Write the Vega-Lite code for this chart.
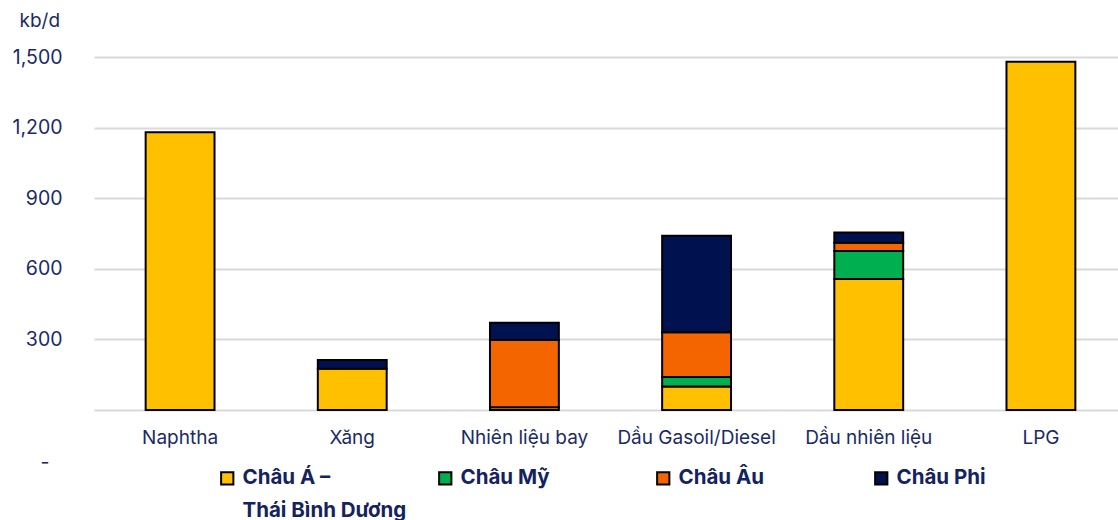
{
  "$schema": "https://vega.github.io/schema/vega-lite/v6.json",
  "autosize": "none",
  "width": 1033,
  "height": 353,
  "padding": {"left": 94, "top": 57, "right": 0, "bottom": 110},
  "background": "white",
  "config": {
    "view": {"stroke": null},
    "font": "Inter"
  },
  "data": {
    "values": [
      {"product": "Naphtha", "region": "Châu Á – Thái Bình Dương", "value": 1180},
      {"product": "Xăng", "region": "Châu Á – Thái Bình Dương", "value": 175},
      {"product": "Xăng", "region": "Châu Phi", "value": 37},
      {"product": "Nhiên liệu bay", "region": "Châu Á – Thái Bình Dương", "value": 12},
      {"product": "Nhiên liệu bay", "region": "Châu Âu", "value": 285},
      {"product": "Nhiên liệu bay", "region": "Châu Phi", "value": 74},
      {"product": "Dầu Gasoil/Diesel", "region": "Châu Á – Thái Bình Dương", "value": 100},
      {"product": "Dầu Gasoil/Diesel", "region": "Châu Mỹ", "value": 40},
      {"product": "Dầu Gasoil/Diesel", "region": "Châu Âu", "value": 190},
      {"product": "Dầu Gasoil/Diesel", "region": "Châu Phi", "value": 410},
      {"product": "Dầu nhiên liệu", "region": "Châu Á – Thái Bình Dương", "value": 557},
      {"product": "Dầu nhiên liệu", "region": "Châu Mỹ", "value": 119},
      {"product": "Dầu nhiên liệu", "region": "Châu Âu", "value": 35},
      {"product": "Dầu nhiên liệu", "region": "Châu Phi", "value": 43},
      {"product": "LPG", "region": "Châu Á – Thái Bình Dương", "value": 1480}
    ]
  },
  "transform": [
    {"calculate": "indexof(['Châu Á – Thái Bình Dương', 'Châu Mỹ', 'Châu Âu', 'Châu Phi'], datum.region)", "as": "stackOrder"}
  ],
  "mark": {"type": "bar", "stroke": "#000000", "strokeWidth": 2},
  "encoding": {
    "x": {
      "field": "product",
      "type": "nominal",
      "sort": ["Naphtha", "Xăng", "Nhiên liệu bay", "Dầu Gasoil/Diesel", "Dầu nhiên liệu", "LPG"],
      "scale": {"paddingInner": 0.6, "paddingOuter": 0.3},
      "axis": {
        "title": null,
        "labelAngle": 0,
        "labelFontSize": 19,
        "labelColor": "#1B2A66",
        "labelFont": "Inter",
        "labelPadding": 18,
        "ticks": false,
        "domain": false
      }
    },
    "y": {
      "field": "value",
      "type": "quantitative",
      "stack": "zero",
      "scale": {"domain": [0, 1500], "nice": false},
      "axis": {
        "title": "kb/d",
        "titleAngle": 0,
        "titleAlign": "left",
        "titleBaseline": "middle",
        "titleX": -75,
        "titleY": -37,
        "titleFont": "Inter",
        "titleFontSize": 19,
        "titleFontWeight": "normal",
        "titleColor": "#1B2A66",
        "values": [0, 300, 600, 900, 1200, 1500],
        "labelExpr": "datum.value == 0 ? '-' : format(datum.value, ',')",
        "labelFont": "Inter",
        "labelFontSize": 19.5,
        "labelColor": "#1B2A66",
        "labelPadding": {"condition": {"test": "datum.value == 0", "value": 45}, "value": 32},
        "labelOffset": {"condition": {"test": "datum.value == 0", "value": 52}, "value": 0},
        "ticks": false,
        "domain": false,
        "grid": true,
        "gridColor": "#D9D9D9",
        "gridWidth": 2
      }
    },
    "order": {"field": "stackOrder", "type": "quantitative"},
    "color": {
      "field": "region",
      "type": "nominal",
      "sort": ["Châu Á – Thái Bình Dương", "Châu Mỹ", "Châu Âu", "Châu Phi"],
      "scale": {
        "domain": ["Châu Á – Thái Bình Dương", "Châu Mỹ", "Châu Âu", "Châu Phi"],
        "range": ["#FFC000", "#00B050", "#F46500", "#001150"]
      },
      "legend": {
        "title": null,
        "orient": "none",
        "legendX": 123,
        "legendY": 411,
        "direction": "horizontal",
        "columns": 4,
        "gridAlign": "all",
        "columnPadding": 28,
        "padding": 0,
        "symbolType": "square",
        "symbolSize": 150,
        "symbolStrokeColor": "#000000",
        "symbolStrokeWidth": 2,
        "labelFont": "Inter",
        "labelFontSize": 20.5,
        "labelFontWeight": "bold",
        "labelColor": "#14235F",
        "labelOffset": 5,
        "labelLimit": 400,
        "labelExpr": "datum.label == 'Châu Á – Thái Bình Dương' ? ['Châu Á –', 'Thái Bình Dương', ''] : [datum.label, '', '']",
        "encode": {
          "labels": {"update": {"lineHeight": {"value": 33}}}
        }
      }
    }
  }
}
